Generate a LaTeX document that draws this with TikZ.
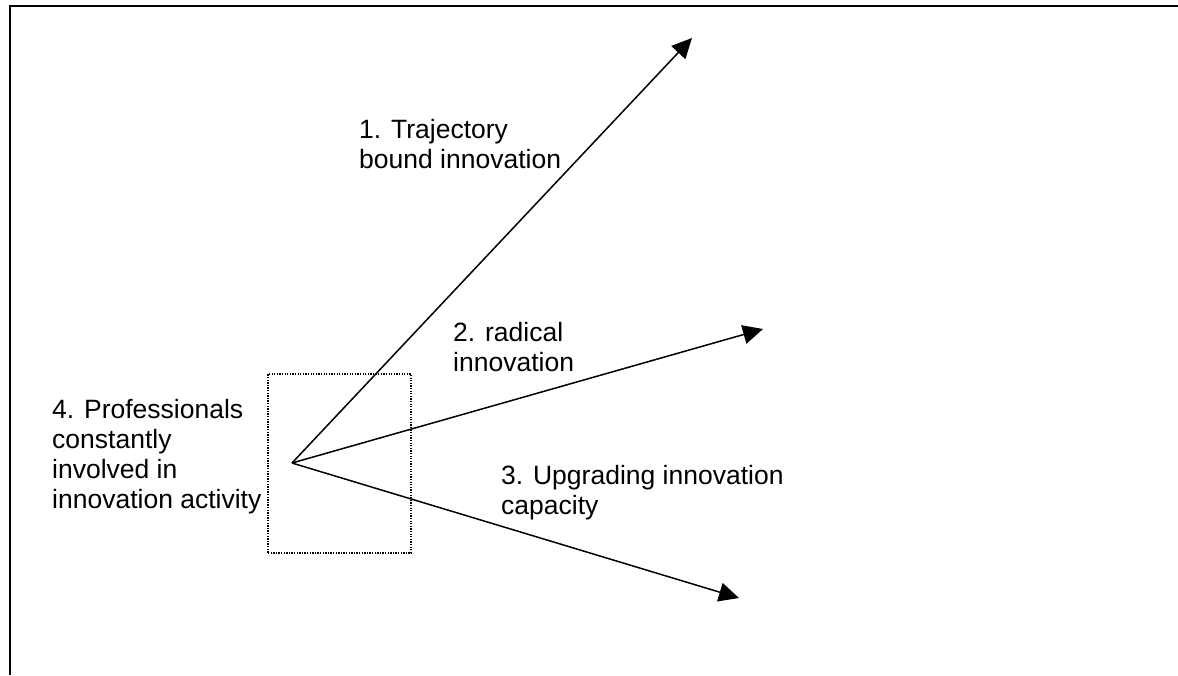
\documentclass[tikz,border=0pt]{standalone}
\usepackage{fontspec}
\setmainfont{Liberation Sans}
\usetikzlibrary{arrows.meta, positioning}

\begin{document}
\begin{tikzpicture}[
    x=1pt, y=-1pt,
    arrow/.style={-{Triangle[length=20pt, width=19pt]}, line width=1.5pt, black},
    label/.style={anchor=base west, inner sep=0pt, align=left, font=\fontsize{26.5}{30}\selectfont},
    dotbox/.style={rectangle, draw=black, line width=1.3pt, dash pattern=on 1.3pt off 1.3pt, minimum width=143pt, minimum height=179pt, inner sep=0pt},
]
\useasboundingbox (0,0) rectangle (1178,675);

% Frame
\draw[line width=2.4pt] (10,675) -- (10,6) -- (1178,6);

% Professionals box and the common origin
\node[dotbox] (group) at (339.5,463.5) {};
\coordinate (hub) at (292,463);

% Arrow tips
\coordinate (trajectory) at (692,38);
\coordinate (radical) at (763,329);
\coordinate (upgrading) at (739,598);

% Arrows
\draw[arrow] (hub) -- (trajectory);
\draw[arrow] (hub) -- (radical);
\draw[arrow] (hub) -- (upgrading);

% Labels (placed at the baseline of their last line)
\node[label] (l1) at (359,168) {1. Trajectory\\bound innovation};
\node[label] (l2) at (453,371) {2. radical\\innovation};
\node[label] (l3) at (501,514) {3. Upgrading innovation\\capacity};
\node[label] (l4) at (52,508) {4. Professionals\\constantly\\involved in\\innovation activity};

\end{tikzpicture}
\end{document}
